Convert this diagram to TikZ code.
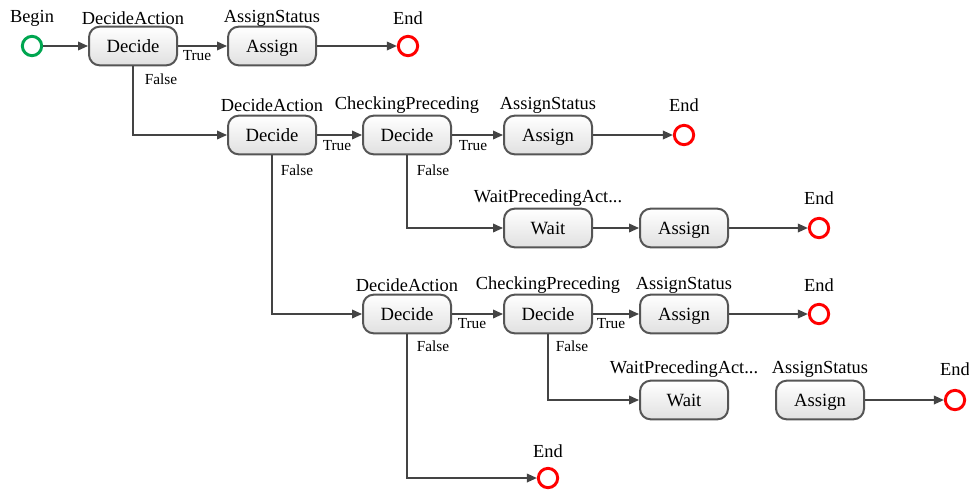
\documentclass[tikz,border=0pt]{standalone}
\usepackage{fontspec}
\setmainfont{Liberation Serif}
\usetikzlibrary{arrows.meta}
\definecolor{edgegray}{HTML}{444444}
\definecolor{boxline}{HTML}{555555}
\definecolor{startgreen}{HTML}{00A650}
\definecolor{endred}{HTML}{FF0000}
\tikzset{
  act/.style={draw=boxline, line width=1.5pt, rounded corners=8pt,
    top color=white, bottom color=black!12, minimum width=66pt,
    minimum height=29pt, inner sep=0pt, text height=9.4pt, text depth=0pt,
    font=\fontsize{14}{16}\selectfont},
  startev/.style={circle, draw=startgreen, line width=2.2pt, minimum size=14.5pt, inner sep=0pt},
  endev/.style={circle, draw=endred, line width=2.2pt, minimum size=14.5pt, inner sep=0pt},
  title/.style={font=\fontsize{13.8}{16}\selectfont, inner sep=0pt},
  flow/.style={draw=edgegray, line width=1.1pt, -{Triangle[length=7.5pt,width=6.5pt]}},
  cond/.style={font=\fontsize{11.5}{13}\selectfont, inner sep=0pt, text=black},
}
\begin{document}
\begin{tikzpicture}[x=0.75pt,y=-0.75pt]
\useasboundingbox (0,0) rectangle (969,494);

% row 1
\node[startev] (b0) at (32,46) {};
\node[title] (lb0) at (32,18) {Begin};
\node[act] (d1) at (133,46) {Decide};
\node[title] (ld1) at (133,18) {DecideAction};
\node[act] (a1) at (272,46) {Assign};
\node[title] (la1) at (272,18) {AssignStatus};
\node[endev] (e1) at (408,46) {};
\node[title] (le1) at (408,18) {End};

% row 2
\node[act] (d2) at (272,135) {Decide};
\node[title] (ld2) at (272,105) {DecideAction};
\node[act] (d3) at (407,135) {Decide};
\node[title] (ld3) at (407,105) {CheckingPreceding};
\node[act] (a2) at (548,135) {Assign};
\node[title] (la2) at (548,105) {AssignStatus};
\node[endev] (e2) at (684,135) {};
\node[title] (le2) at (684,105) {End};

% row 3
\node[act] (w1) at (548,228) {Wait};
\node[title] (lw1) at (548,198) {WaitPrecedingAct...};
\node[act] (a3) at (684,228) {Assign};
\node[endev] (e3) at (819,228) {};
\node[title] (le3) at (819,198) {End};

% row 4
\node[act] (d4) at (407,314) {Decide};
\node[title] (ld4) at (407,285) {DecideAction};
\node[act] (d5) at (548,314) {Decide};
\node[title] (ld5) at (548,285) {CheckingPreceding};
\node[act] (a4) at (684,314) {Assign};
\node[title] (la4) at (684,285) {AssignStatus};
\node[endev] (e4) at (819,314) {};
\node[title] (le4) at (819,285) {End};

% row 5
\node[act] (w2) at (684,400) {Wait};
\node[title] (lw2) at (684,369) {WaitPrecedingAct...};
\node[act] (a5) at (820,400) {Assign};
\node[title] (la5) at (820,369) {AssignStatus};
\node[endev] (e5) at (955,400) {};
\node[title] (le5) at (955,369) {End};

% row 6
\node[endev] (e6) at (548,478) {};
\node[title] (le6) at (548,451) {End};

% straight flows
\draw[flow] (b0) -- (d1);
\draw[flow] (d1) -- (a1);
\node[cond] (t1) at (197,56) {True};
\draw[flow] (a1) -- (e1);
\draw[flow] (d2) -- (d3);
\node[cond] (t2) at (337,146) {True};
\draw[flow] (d3) -- (a2);
\node[cond] (t3) at (473,146) {True};
\draw[flow] (a2) -- (e2);
\draw[flow] (w1) -- (a3);
\draw[flow] (a3) -- (e3);
\draw[flow] (d4) -- (d5);
\node[cond] (t4) at (472,324) {True};
\draw[flow] (d5) -- (a4);
\node[cond] (t5) at (611,324) {True};
\draw[flow] (a4) -- (e4);
\draw[flow] (a5) -- (e5);

% false branches
\draw[flow] (d1.south) |- (d2.west);
\node[cond] (f1) at (161,79) {False};
\draw[flow] (d2.south) |- (d4.west);
\node[cond] (f2) at (297,170) {False};
\draw[flow] (d3.south) |- (w1.west);
\node[cond] (f3) at (433,170) {False};
\draw[flow] (d4.south) |- (e6.west);
\node[cond] (f4) at (433,346) {False};
\draw[flow] (d5.south) |- (w2.west);
\node[cond] (f5) at (572,346) {False};
\end{tikzpicture}
\end{document}
